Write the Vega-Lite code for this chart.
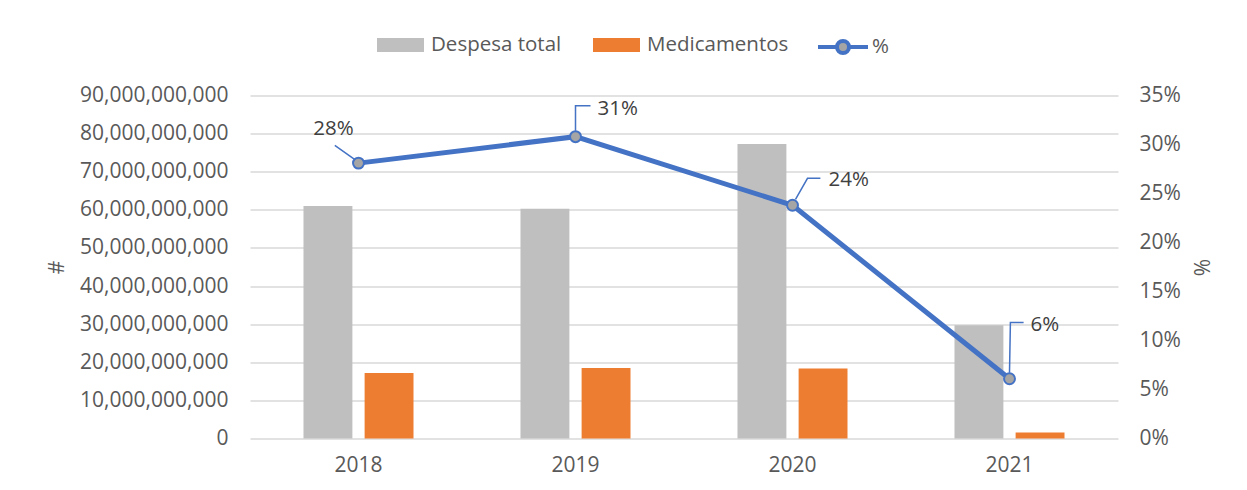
{
  "$schema": "https://vega.github.io/schema/vega-lite/v6.json",
  "autosize": {"type": "none"},
  "width": 868,
  "height": 343,
  "padding": {"left": 250, "top": 95.5, "right": 129, "bottom": 51.5},
  "background": "white",
  "config": {
    "view": {"stroke": null},
    "font": "Open Sans",
    "axis": {"labelFont": "Open Sans", "titleFont": "Open Sans", "labelColor": "#595959", "titleColor": "#595959", "labelFontSize": 21, "titleFontSize": 21, "titleFontWeight": "normal"},
    "legend": {"labelFont": "Open Sans", "labelFontSize": 20.5, "labelColor": "#595959"}
  },
  "datasets": {
    "barras": [
      {"ano": "2018", "serie": "Despesa total", "valor": 61000000000},
      {"ano": "2018", "serie": "Medicamentos", "valor": 17200000000},
      {"ano": "2019", "serie": "Despesa total", "valor": 60300000000},
      {"ano": "2019", "serie": "Medicamentos", "valor": 18500000000},
      {"ano": "2020", "serie": "Despesa total", "valor": 77300000000},
      {"ano": "2020", "serie": "Medicamentos", "valor": 18400000000},
      {"ano": "2021", "serie": "Despesa total", "valor": 29700000000},
      {"ano": "2021", "serie": "Medicamentos", "valor": 1600000000}
    ],
    "pct": [
      {"ano": "2018", "serie": "%", "pct": 0.281, "rotulo": "28%"},
      {"ano": "2019", "serie": "%", "pct": 0.308, "rotulo": "31%"},
      {"ano": "2020", "serie": "%", "pct": 0.238, "rotulo": "24%"},
      {"ano": "2021", "serie": "%", "pct": 0.061, "rotulo": "6%"}
    ]
  },
  "encoding": {
    "x": {"field": "ano", "type": "nominal", "sort": ["2018", "2019", "2020", "2021"],
      "scale": {"paddingInner": 0.493, "paddingOuter": 0.2465},
      "axis": {"title": null, "labelAngle": 0, "domain": false, "ticks": false, "labelPadding": 16, "grid": false}}
  },
  "layer": [
    {
      "data": {"name": "barras"},
      "mark": {"type": "bar"},
      "encoding": {
        "xOffset": {"field": "serie", "type": "nominal", "scale": {"paddingInner": 0.2, "paddingOuter": 0}},
        "y": {"field": "valor", "type": "quantitative",
          "scale": {"domain": [0, 90000000000], "nice": false},
          "axis": {"title": "#", "values": [0, 10000000000, 20000000000, 30000000000, 40000000000, 50000000000, 60000000000, 70000000000, 80000000000, 90000000000],
            "format": ",.0f", "domain": false, "ticks": false, "labelPadding": 22, "grid": true, "gridColor": "#d9d9d9", "gridWidth": 1.5,
            "titleAngle": -90, "titleX": -193, "titleY": 171.5, "titleBaseline": "middle", "titleAlign": "center"}},
        "color": {"field": "serie", "type": "nominal",
          "scale": {"domain": ["Despesa total", "Medicamentos"], "range": ["#bfbfbf", "#ed7d31"]},
          "legend": {"title": null, "orient": "none", "direction": "horizontal", "legendX": 127, "legendY": -74,
            "symbolType": "M-1,-0.3H1V0.3H-1Z", "symbolSize": 2209, "symbolStrokeWidth": 0, "labelOffset": 7, "columnPadding": 31, "padding": 0}}
      }
    },
    {
      "data": {"name": "pct"},
      "encoding": {
        "y": {"field": "pct", "type": "quantitative",
          "scale": {"domain": [0, 0.35], "nice": false},
          "axis": {"orient": "right", "title": "%", "values": [0, 0.05, 0.1, 0.15, 0.2, 0.25, 0.3, 0.35], "format": ".0%",
            "domain": false, "ticks": false, "grid": false, "labelPadding": 21,
            "titleAngle": -90, "titleX": 85, "titleY": 171.5, "titleBaseline": "middle", "titleAlign": "center"}}
      },
      "layer": [
        {
          "mark": {"type": "line", "strokeWidth": 5},
          "encoding": {
            "color": {"field": "serie", "type": "nominal",
              "scale": {"domain": ["%"], "range": ["#4472c4"]},
              "legend": {"title": null, "orient": "none", "legendX": 566, "legendY": -75.5, "padding": 0,
                "symbolType": "M-1,0H-0.24M0.24,0H1M-0.24,0A0.24,0.24,0,1,1,0.24,0A0.24,0.24,0,1,1,-0.24,0",
                "symbolSize": 2500, "labelOffset": 2,
                "symbolStrokeWidth": 4,
                "symbolFillColor": "#a5a5a5",
                "encode": {"symbols": {"update": {"fill": {"value": "#a5a5a5"}, "stroke": {"value": "#4472c4"}, "strokeWidth": {"value": 4}}}}}}
          }
        },
        {
          "mark": {"type": "point", "filled": true, "size": 120, "fill": "#a5a5a5", "stroke": "#4472c4", "strokeWidth": 2, "opacity": 1}
        },
        {
          "transform": [{"filter": "datum.ano == '2018'"}],
          "layer": [
            {"mark": {"type": "point", "shape": "M-0.79,-0.59L-0.12,-0.12", "size": 3600, "filled": false, "stroke": "#4472c4", "strokeWidth": 1.5, "opacity": 1}},
            {"mark": {"type": "text", "align": "center", "baseline": "middle", "dx": -25, "dy": -34, "fontSize": 20.5, "color": "#404040"}, "encoding": {"text": {"field": "rotulo"}}}
          ]
        },
        {
          "transform": [{"filter": "datum.ano == '2019'"}],
          "layer": [
            {"mark": {"type": "point", "shape": "M0,-0.2V-1.03H0.5", "size": 3600, "filled": false, "stroke": "#4472c4", "strokeWidth": 1.5, "opacity": 1}},
            {"mark": {"type": "text", "align": "left", "baseline": "middle", "dx": 22, "dy": -28, "fontSize": 20.5, "color": "#404040"}, "encoding": {"text": {"field": "rotulo"}}}
          ]
        },
        {
          "transform": [{"filter": "datum.ano == '2020'"}],
          "layer": [
            {"mark": {"type": "point", "shape": "M0.1,-0.2L0.5,-0.9H0.93", "size": 3600, "filled": false, "stroke": "#4472c4", "strokeWidth": 1.5, "opacity": 1}},
            {"mark": {"type": "text", "align": "left", "baseline": "middle", "dx": 36, "dy": -25, "fontSize": 20.5, "color": "#404040"}, "encoding": {"text": {"field": "rotulo"}}}
          ]
        },
        {
          "transform": [{"filter": "datum.ano == '2021'"}],
          "layer": [
            {"mark": {"type": "point", "shape": "M0,-0.2L0.03,-1.87H0.47", "size": 3600, "filled": false, "stroke": "#4472c4", "strokeWidth": 1.5, "opacity": 1}},
            {"mark": {"type": "text", "align": "left", "baseline": "middle", "dx": 21, "dy": -54, "fontSize": 20.5, "color": "#404040"}, "encoding": {"text": {"field": "rotulo"}}}
          ]
        }
      ]
    }
  ],
  "resolve": {"scale": {"y": "independent", "color": "independent"}}
}
